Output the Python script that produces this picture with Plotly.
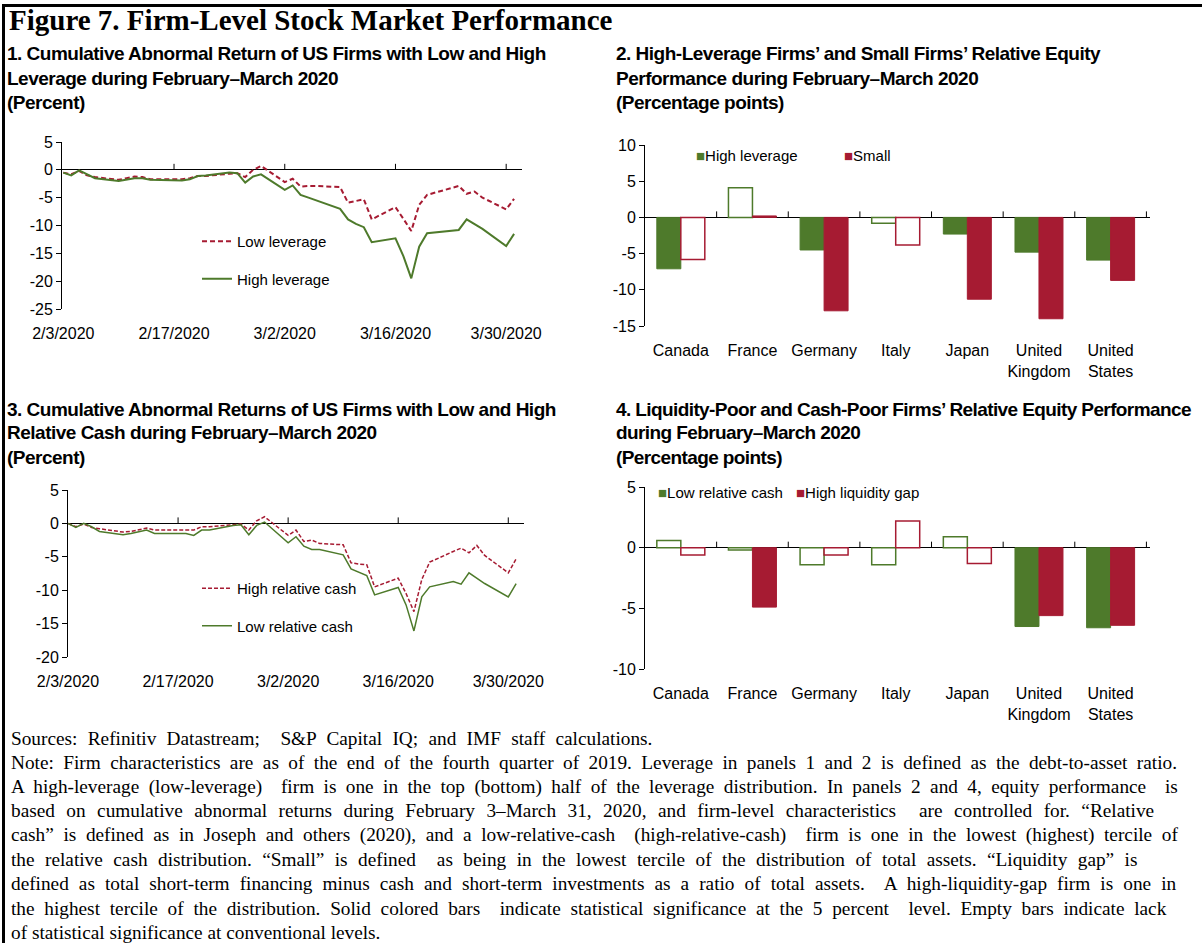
import plotly.graph_objects as go

W, H = 1202, 943

# ---------------- data ----------------
dates = ["2020-02-03", "2020-02-04", "2020-02-05", "2020-02-06", "2020-02-07",
         "2020-02-10", "2020-02-11", "2020-02-12", "2020-02-13", "2020-02-14",
         "2020-02-18", "2020-02-19", "2020-02-20", "2020-02-21",
         "2020-02-24", "2020-02-25", "2020-02-26", "2020-02-27", "2020-02-28",
         "2020-03-02", "2020-03-03", "2020-03-04", "2020-03-05", "2020-03-06",
         "2020-03-09", "2020-03-10", "2020-03-11", "2020-03-12", "2020-03-13",
         "2020-03-16", "2020-03-17", "2020-03-18", "2020-03-19", "2020-03-20",
         "2020-03-23", "2020-03-24", "2020-03-25", "2020-03-26", "2020-03-27",
         "2020-03-30", "2020-03-31"]

low_leverage = [-0.5, -0.8, -0.2, -1.0, -1.3,
                -1.8, -1.5, -1.2, -1.3, -1.7,
                -1.7, -1.5, -1.1, -1.1,
                -0.7, -0.6, -1.3, 0.0, 0.7,
                -2.2, -1.6, -3.0, -2.9, -2.9,
                -3.1, -5.9, -5.6, -5.3, -8.9,
                -6.7, -8.8, -11.0, -6.3, -4.5,
                -3.3, -2.9, -4.3, -3.9, -5.0,
                -7.1, -5.2]
high_leverage = [-0.5, -1.0, -0.1, -0.8, -1.5,
                 -2.0, -1.7, -1.5, -1.5, -1.8,
                 -1.9, -1.7, -1.1, -1.0,
                 -0.5, -0.6, -2.3, -1.2, -0.8,
                 -3.6, -2.8, -4.5, -5.0, -5.5,
                 -7.0, -8.9, -9.7, -10.3, -13.0,
                 -12.3, -15.5, -19.5, -13.8, -11.4,
                 -10.9, -10.8, -8.9, -9.8, -10.6,
                 -13.7, -11.5]

high_rel_cash = [0.0, -0.5, -0.1, -0.6, -0.8,
                 -1.3, -1.2, -0.9, -0.7, -1.0,
                 -1.0, -1.0, -0.5, -0.5,
                 -0.2, -0.1, -1.0, 0.4, 1.0,
                 -1.8, -1.0, -2.7, -2.5, -3.0,
                 -3.2, -5.9, -6.1, -6.2, -9.5,
                 -8.2, -10.5, -13.2, -8.4, -5.8,
                 -4.2, -3.7, -4.4, -3.3, -4.8,
                 -7.4, -5.3]
low_rel_cash = [0.0, -0.6, 0.0, -0.5, -1.2,
                -1.7, -1.5, -1.2, -1.0, -1.5,
                -1.5, -1.8, -1.0, -1.0,
                -0.3, -0.2, -1.7, -0.3, 0.2,
                -2.9, -2.0, -3.4, -3.9, -3.9,
                -4.7, -6.8, -7.3, -7.8, -10.7,
                -9.6, -12.2, -16.1, -11.0, -9.5,
                -8.7, -9.1, -7.4, -8.2, -9.0,
                -11.0, -9.0]

date_ticks = ["2020-02-03", "2020-02-17", "2020-03-02", "2020-03-16", "2020-03-30"]
date_tick_text = ["2/3/2020", "2/17/2020", "3/2/2020", "3/16/2020", "3/30/2020"]

countries = ["Canada", "France", "Germany", "Italy", "Japan",
             "United<br>Kingdom", "United<br>States"]

hl_values = [-7.1, 4.1, -4.5, -0.8, -2.3, -4.8, -5.9]
hl_signif = [True, False, True, False, True, True, True]
small_values = [-5.8, 0.2, -12.9, -3.8, -11.3, -14.0, -8.7]
small_signif = [False, True, True, False, True, True, True]

lrc_values = [0.6, -0.2, -1.4, -1.4, 0.9, -6.5, -6.6]
lrc_signif = [False, False, False, False, False, True, True]
hlg_values = [-0.6, -4.9, -0.6, 2.2, -1.3, -5.6, -6.4]
hlg_signif = [False, True, False, False, False, True, True]

y1_ticks = [5, 0, -5, -10, -15, -20, -25]
y2_ticks = [10, 5, 0, -5, -10, -15]
y3_ticks = [5, 0, -5, -10, -15, -20]
y4_ticks = [5, 0, -5, -10]

GREEN = "#4E7A2B"
RED = "#A61B32"

SANS = "Liberation Sans, Arial, sans-serif"
SERIF = "Liberation Serif, Times New Roman, serif"

fig = go.Figure()


def px_x(p):
    return p / W


def px_y(p):
    return 1 - p / H


# ---------------- panel domains ----------------
dom = {
    1: ([px_x(62), px_x(522)], [px_y(309), px_y(142)]),
    2: ([px_x(645), px_x(1150)], [px_y(326), px_y(145)]),
    3: ([px_x(68), px_x(524)], [px_y(657), px_y(490)]),
    4: ([px_x(645), px_x(1150)], [px_y(669), px_y(487)]),
}

# ---------------- line panels ----------------
fig.add_trace(go.Scatter(x=dates, y=low_leverage, name="Low leverage", mode="lines",
                         line=dict(color=RED, width=2, dash="5px,3px"),
                         xaxis="x", yaxis="y", legend="legend", legendgroup="a"))
fig.add_trace(go.Scatter(x=dates, y=high_leverage, name="High leverage", mode="lines",
                         line=dict(color=GREEN, width=2),
                         xaxis="x", yaxis="y", legend="legend", legendgroup="b"))
fig.add_trace(go.Scatter(x=dates, y=high_rel_cash, name="High relative cash", mode="lines",
                         line=dict(color=RED, width=1.5, dash="4px,2px"),
                         xaxis="x3", yaxis="y3", legend="legend3", legendgroup="c"))
fig.add_trace(go.Scatter(x=dates, y=low_rel_cash, name="Low relative cash", mode="lines",
                         line=dict(color=GREEN, width=1.5),
                         xaxis="x3", yaxis="y3", legend="legend3", legendgroup="d"))


# ---------------- bar panels ----------------
def add_bars(values, signif, color, name, xa, ya, group):
    filled = [v if s else None for v, s in zip(values, signif)]
    empty = [None if s else v for v, s in zip(values, signif)]
    fig.add_trace(go.Bar(x=countries, y=filled, name=name, offsetgroup=group,
                         marker=dict(color=color, line=dict(color=color, width=1)),
                         xaxis=xa, yaxis=ya, showlegend=False))
    fig.add_trace(go.Bar(x=countries, y=empty, name=name, offsetgroup=group,
                         marker=dict(color="white", line=dict(color=color, width=1.5)),
                         xaxis=xa, yaxis=ya, showlegend=False))


add_bars(hl_values, hl_signif, GREEN, "High leverage", "x2", "y2", "g1")
add_bars(small_values, small_signif, RED, "Small", "x2", "y2", "g2")
add_bars(lrc_values, lrc_signif, GREEN, "Low relative cash", "x4", "y4", "g1")
add_bars(hlg_values, hlg_signif, RED, "High liquidity gap", "x4", "y4", "g2")

tickfont = dict(family=SANS, size=16, color="black")


def yax(domain, anchor, rng, ticks):
    return dict(domain=domain, anchor=anchor, range=rng, tickvals=ticks,
                ticktext=[str(t) for t in ticks], automargin=False,
                showline=True, linecolor="black", linewidth=1, ticks="outside",
                ticklen=5, tickcolor="black", showgrid=False, zeroline=True,
                zerolinecolor="black", zerolinewidth=1, tickfont=tickfont)


def xdate(domain, anchor, rng):
    return dict(domain=domain, anchor=anchor, type="date", range=rng,
                tickvals=date_ticks, ticktext=date_tick_text, showline=False,
                ticks="", showgrid=False, zeroline=False, tickfont=tickfont,
                automargin=False, ticklabelstandoff=13)


def xcat(domain, anchor):
    return dict(domain=domain, anchor=anchor, type="category", showline=False,
                ticks="", showgrid=False, tickfont=tickfont, range=[-0.5, 6.55],
                automargin=False, ticklabelstandoff=13)


layout = dict(
    width=W, height=H,
    margin=dict(l=0, r=0, t=0, b=0, autoexpand=False),
    paper_bgcolor="white", plot_bgcolor="rgba(0,0,0,0)",
    barmode="group", bargap=0.33, bargroupgap=0.0,
    showlegend=True,
    xaxis=xdate(dom[1][0], "y", ["2020-02-02 20:00", "2020-04-01 00:00"]),
    yaxis=yax(dom[1][1], "x", [-25, 5], y1_ticks),
    xaxis3=xdate(dom[3][0], "y3", ["2020-02-03 00:00", "2020-04-01 00:00"]),
    yaxis3=yax(dom[3][1], "x3", [-20, 5], y3_ticks),
    xaxis2=xcat(dom[2][0], "y2"),
    yaxis2=yax(dom[2][1], "x2", [-15, 10], y2_ticks),
    xaxis4=xcat(dom[4][0], "y4"),
    yaxis4=yax(dom[4][1], "x4", [-10, 5], y4_ticks),
    legend=dict(x=px_x(197), y=px_y(225), xanchor="left", yanchor="top",
                font=dict(family=SANS, size=15, color="black"),
                bgcolor="rgba(0,0,0,0)", tracegroupgap=15, orientation="v"),
    legend3=dict(x=px_x(197), y=px_y(572), xanchor="left", yanchor="top",
                 font=dict(family=SANS, size=15, color="black"),
                 bgcolor="rgba(0,0,0,0)", tracegroupgap=15, orientation="v"),
)
fig.update_layout(**layout)

# tick marks on the zero line (line panels)
shapes = []
for xa, ya in (("x", "y"), ("x3", "y3")):
    for d in date_ticks[1:]:
        shapes.append(dict(type="line", xref=xa, yref=ya, x0=d, x1=d,
                           ysizemode="pixel", yanchor=0, y0=0, y1=6,
                           line=dict(color="black", width=1)))
# tick marks at category boundaries on the zero line (bar panels)
for xa, ya in (("x2", "y2"), ("x4", "y4")):
    for i in range(len(countries)):
        shapes.append(dict(type="line", xref=xa, yref=ya, x0=i + 0.5, x1=i + 0.5,
                           ysizemode="pixel", yanchor=0, y0=0, y1=6,
                           line=dict(color="black", width=1)))
# frame (top and left rules)
shapes.append(dict(type="line", xref="paper", yref="paper", x0=px_x(2), x1=1,
                   y0=px_y(5.5), y1=px_y(5.5), line=dict(color="black", width=3)))
shapes.append(dict(type="line", xref="paper", yref="paper", x0=px_x(3.5), x1=px_x(3.5),
                   y0=px_y(4), y1=0, line=dict(color="black", width=3)))
fig.update_layout(shapes=shapes)

# ---------------- texts ----------------
ann = []


def text(x, y, s, font, anchor="left"):
    ann.append(dict(x=px_x(x), y=px_y(y), xref="paper", yref="paper", text=s,
                    showarrow=False, xanchor=anchor, yanchor="middle", font=font,
                    align="left"))


title_font = dict(family=SERIF, size=29, color="black", weight="bold")
ptitle_font = dict(family=SANS, size=19, color="black", weight="bold")
note_font = dict(family=SERIF, size=19.3, color="black")
leg_font = dict(family=SANS, size=15, color="black")

text(7, 20, "Figure 7. Firm-Level Stock Market Performance", title_font)


def squeeze(s, ls):
    return f"<span style='letter-spacing:{ls}px'>{s}</span>"


p1 = ["1. Cumulative Abnormal Return of US Firms with Low and High",
      "Leverage during February\u2013March 2020", "(Percent)"]
p2 = ["2. High-Leverage Firms\u2019 and Small Firms\u2019 Relative Equity",
      "Performance during February\u2013March 2020", "(Percentage points)"]
p3 = ["3. Cumulative Abnormal Returns of US Firms with Low and High",
      "Relative Cash during February\u2013March 2020", "(Percent)"]
p4 = ["4. Liquidity-Poor and Cash-Poor Firms\u2019 Relative Equity Performance",
      "during February\u2013March 2020", "(Percentage points)"]
for i, s in enumerate(p1):
    text(5, 54 + 24 * i, squeeze(s, -0.5), ptitle_font)
for i, s in enumerate(p2):
    text(614, 54 + 24 * i, squeeze(s, -0.5), ptitle_font)
for i, s in enumerate(p3):
    text(5, 409 + 24 * i, squeeze(s, -0.5), ptitle_font)
for i, s in enumerate(p4):
    text(614, 409 + 24 * i, squeeze(s, -0.6), ptitle_font)

# bar legends
text(694, 156, f"<span style='color:{GREEN}'>\u25A0</span>High leverage", leg_font)
text(842, 156, f"<span style='color:{RED}'>\u25A0</span>Small", leg_font)
text(656, 492, f"<span style='color:{GREEN}'>\u25A0</span>Low relative cash", leg_font)
text(794, 492, f"<span style='color:{RED}'>\u25A0</span>High liquidity gap", leg_font)

notes = [
    "Sources: Refinitiv Datastream;  S&P Capital IQ; and IMF staff calculations.",
    "Note: Firm characteristics are as of the end of the fourth quarter of 2019. Leverage in panels 1 and 2 is defined as the debt-to-asset ratio.",
    "A high-leverage (low-leverage)  firm is one in the top (bottom) half of the leverage distribution. In panels 2 and 4, equity performance  is",
    "based on cumulative abnormal returns during February 3\u2013March 31, 2020, and firm-level characteristics  are controlled for. \u201cRelative",
    "cash\u201d is defined as in Joseph and others (2020), and a low-relative-cash  (high-relative-cash)  firm is one in the lowest (highest) tercile of",
    "the relative cash distribution. \u201cSmall\u201d is defined  as being in the lowest tercile of the distribution of total assets. \u201cLiquidity gap\u201d is",
    "defined as total short-term financing minus cash and short-term investments as a ratio of total assets.  A high-liquidity-gap firm is one in",
    "the highest tercile of the distribution. Solid colored bars  indicate statistical significance at the 5 percent  level. Empty bars indicate lack",
    "of statistical significance at conventional levels.",
]
# justification: estimated natural widths and target widths of each line (px)
note_natural = [588, 1053, 1060, 1033, 1060, 1012, 1053, 1049, 370]
note_target = [643, 1168, 1170, 1146, 1170, 1136, 1168, 1157, 370]
for i, s in enumerate(notes):
    ws = (note_target[i] - note_natural[i]) / max(1, s.count(" "))
    styled = f"<span style='word-spacing:{ws:.2f}px'>{s}</span>" if ws > 0 else s
    text(9, 738 + 24.3 * i, styled, note_font)

fig.update_layout(annotations=ann)

fig.write_html("out.html", config={"displayModeBar": False},
               post_script="document.body.style.margin='0';")
